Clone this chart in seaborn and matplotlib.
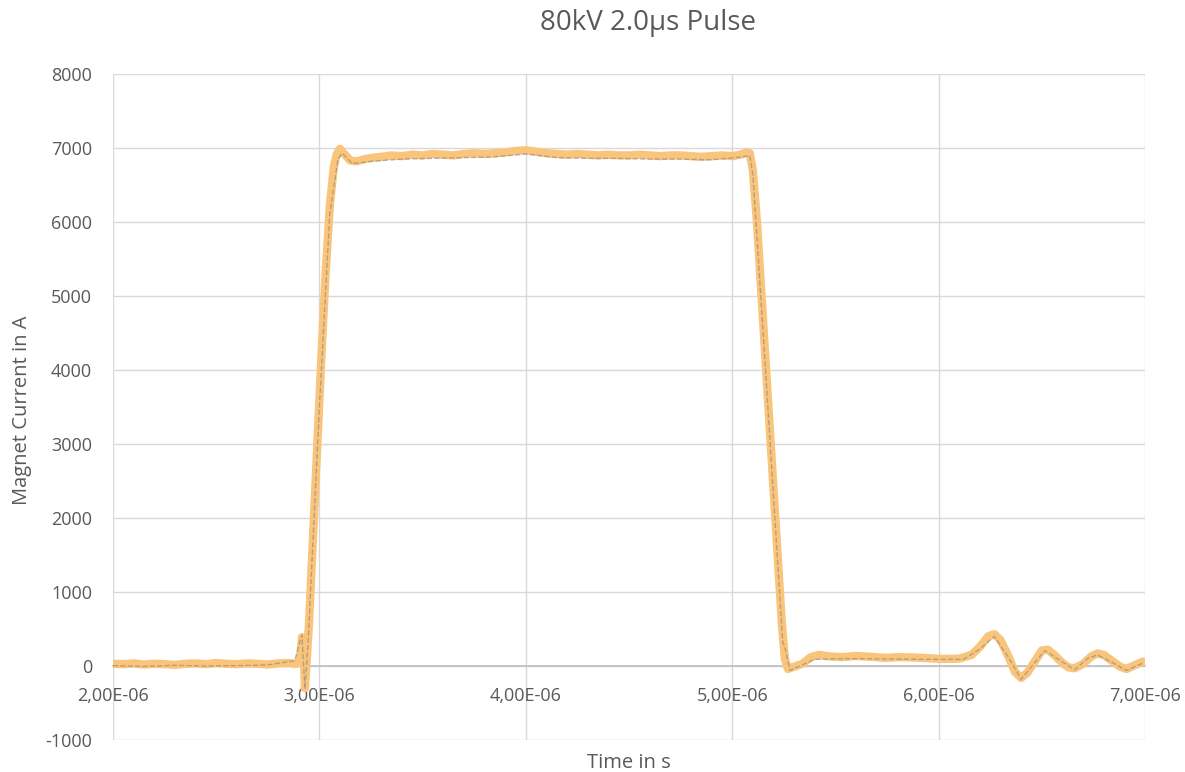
import matplotlib
matplotlib.use("Agg")
import matplotlib.pyplot as plt
from matplotlib.ticker import FuncFormatter, MultipleLocator
import seaborn as sns
import pandas as pd

# time in microseconds, current in A
time_us = [2.00, 2.05, 2.10, 2.15, 2.20, 2.25, 2.30, 2.35, 2.40, 2.45, 2.50, 2.55, 2.60,
           2.65, 2.70, 2.75, 2.80, 2.85, 2.89, 2.905, 2.916, 2.924, 2.930, 2.937, 2.95,
           2.97, 2.99, 3.01, 3.03, 3.05, 3.07, 3.085, 3.10, 3.12, 3.15, 3.18, 3.22, 3.26,
           3.30, 3.35, 3.40, 3.45, 3.50, 3.55, 3.60, 3.65, 3.70, 3.75, 3.80, 3.85, 3.90,
           3.95, 4.00, 4.05, 4.10, 4.15, 4.20, 4.25, 4.30, 4.35, 4.40, 4.45, 4.50, 4.55,
           4.60, 4.65, 4.70, 4.75, 4.80, 4.85, 4.90, 4.95, 5.00, 5.04, 5.07, 5.085, 5.10,
           5.12, 5.14, 5.16, 5.18, 5.20, 5.22, 5.24, 5.255, 5.27, 5.30, 5.34, 5.38, 5.42,
           5.47, 5.53, 5.60, 5.67, 5.74, 5.81, 5.88, 5.95, 6.02, 6.10, 6.16, 6.20, 6.24,
           6.27, 6.30, 6.34, 6.37, 6.40, 6.43, 6.47, 6.50, 6.53, 6.56, 6.60, 6.63, 6.66,
           6.70, 6.74, 6.77, 6.80, 6.84, 6.88, 6.91, 6.95, 6.99]
current = [30, 25, 35, 20, 30, 25, 15, 30, 35, 25, 40, 30, 25,
           35, 30, 20, 35, 40, 30, 60, 390, 120, -300, 0, 600,
           1800, 3000, 4200, 5300, 6200, 6750, 6920, 6990, 6920, 6830, 6820, 6850, 6870,
           6880, 6900, 6890, 6910, 6900, 6920, 6910, 6900, 6920, 6930, 6920, 6930, 6940,
           6960, 6970, 6950, 6930, 6920, 6910, 6920, 6910, 6900, 6910, 6900, 6900, 6910,
           6900, 6890, 6900, 6900, 6890, 6880, 6890, 6900, 6890, 6910, 6940, 6930, 6700,
           6000, 5100, 4200, 3300, 2400, 1500, 600, 100, -40, -10, 30, 120, 150,
           130, 120, 135, 125, 110, 120, 115, 105, 95, 100, 150, 260, 400,
           430, 350, 120, -80, -160, -90, 80, 210, 220, 150, 40, -20, -30,
           30, 130, 170, 150, 70, -10, -40, 10, 60]

# second probe (grey dashed), peeking out along the edge of the orange trace
time2_us = [2.00, 2.15, 2.30, 2.45, 2.60, 2.75, 2.88, 2.915, 2.93, 2.945, 3.00, 3.05,
            3.09, 3.11, 3.16, 3.25, 3.40, 3.55, 3.70, 3.85, 4.00, 4.15, 4.30, 4.45,
            4.60, 4.75, 4.90, 5.05, 5.085, 5.10, 5.15, 5.20, 5.245, 5.255, 5.28, 5.40,
            5.55, 5.75, 5.95, 6.12, 6.20, 6.27, 6.34, 6.40, 6.47, 6.515, 6.58, 6.66,
            6.72, 6.77, 6.84, 6.91, 6.99]
current2 = [5, -5, 10, 0, 5, 15, 70, 420, -310, 300, 3500, 6100,
            6850, 6930, 6790, 6820, 6850, 6860, 6870, 6880, 6920, 6870, 6860, 6860,
            6850, 6850, 6840, 6880, 6900, 6650, 4500, 2300, 320, 260, -60, 90,
            100, 95, 90, 90, 230, 400, 110, -180, 60, 210, 90, -50,
            100, 150, 50, -60, 40]

df1 = pd.DataFrame({"t": [v * 1e-6 for v in time_us], "I": current})
df2 = pd.DataFrame({"t": [v * 1e-6 for v in time2_us], "I": current2})

sns.set_theme(style="white")
plt.rcParams["font.family"] = ["Open Sans", "DejaVu Sans"]
plt.rcParams["axes.unicode_minus"] = False
txt = "#595959"

fig = plt.figure(figsize=(11.85, 7.72), dpi=100)
ax = fig.add_axes([113 / 1185, 1 - 740 / 772, (1145 - 113) / 1185, (740 - 74) / 772])

sns.lineplot(data=df1, x="t", y="I", ax=ax, color="#f9c57c", lw=6,
             estimator=None, zorder=4, solid_capstyle="round")
sns.lineplot(data=df2, x="t", y="I", ax=ax, color="#7f7f7f", lw=1.0,
             linestyle="--", estimator=None, zorder=5, alpha=0.55)

ax.set_xlim(2e-6, 7e-6)
ax.set_ylim(-1000, 8000)
ax.xaxis.set_major_locator(MultipleLocator(1e-6))
ax.yaxis.set_major_locator(MultipleLocator(1000))
ax.xaxis.set_major_formatter(FuncFormatter(lambda v, p: f"{v:.2E}".replace(".", ",")))
ax.grid(True, color="#d9d9d9", lw=1)
ax.set_axisbelow(True)

for s in ["top", "right", "left"]:
    ax.spines[s].set_visible(False)
ax.spines["bottom"].set_position(("data", 0))
ax.spines["bottom"].set_color("#bfbfbf")
ax.spines["bottom"].set_linewidth(1.2)
ax.spines["bottom"].set_zorder(2)

ax.tick_params(axis="x", length=0, pad=15, labelsize=13, labelcolor=txt)
ax.tick_params(axis="y", length=0, pad=15, labelsize=13, labelcolor=txt)
ax.set_xlabel("")
ax.set_ylabel("")

fig.text(648 / 1185, 1 - 30 / 772, "80kV 2.0µs Pulse", ha="center", va="baseline",
         fontsize=20, color=txt)
fig.text(629 / 1185, 1 - 768 / 772, "Time in s", ha="center", va="baseline",
         fontsize=14.5, color=txt)
fig.text(22 / 1185, 1 - 410 / 772, "Magnet Current in A", ha="center", va="center",
         rotation=90, fontsize=14.5, color=txt)

fig.savefig("out.png", dpi=100)
